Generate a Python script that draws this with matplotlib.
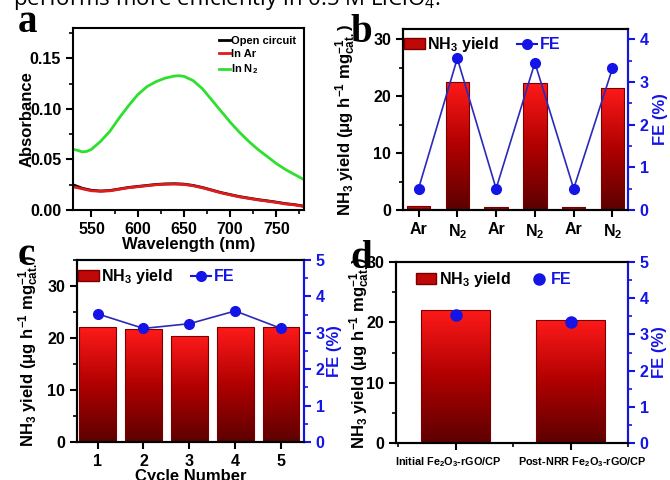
import numpy as np
import matplotlib
matplotlib.use("Agg")
import matplotlib.pyplot as plt
import matplotlib.transforms as mtransforms
from matplotlib.colors import LinearSegmentedColormap
from matplotlib.patches import Patch
from matplotlib.lines import Line2D
from matplotlib.ticker import MultipleLocator, FormatStrFormatter

plt.rcParams['font.family'] = ['Liberation Sans', 'DejaVu Sans']
plt.rcParams['font.weight'] = 'bold'
plt.rcParams['axes.labelweight'] = 'bold'
plt.rcParams['mathtext.default'] = 'regular'
plt.rcParams['axes.linewidth'] = 1.5

# ---- panel a: UV-vis spectra ----
wl = [530, 535, 540, 545, 550, 560, 570, 580, 590, 600, 610, 620, 630, 640, 645, 650,
      660, 670, 680, 690, 700, 710, 720, 730, 740, 750, 760, 770, 780]
abs_n2 = [0.060, 0.059, 0.0575, 0.058, 0.060, 0.068, 0.078, 0.091, 0.103, 0.114, 0.122,
          0.127, 0.1305, 0.1325, 0.1328, 0.1322, 0.128, 0.120, 0.109, 0.098, 0.087, 0.077,
          0.068, 0.060, 0.053, 0.046, 0.040, 0.035, 0.030]
wl_low = [530, 540, 550, 560, 570, 580, 590, 600, 610, 620, 630, 640, 650, 660, 670, 680,
          690, 700, 710, 720, 730, 740, 750, 760, 770, 780]
abs_open = [0.0250, 0.0215, 0.0195, 0.0188, 0.0193, 0.0208, 0.0223, 0.0233, 0.0243, 0.0253,
            0.0258, 0.0260, 0.0256, 0.0243, 0.0223, 0.0198, 0.0173, 0.0153, 0.0133, 0.0118,
            0.0103, 0.0091, 0.0078, 0.0063, 0.0053, 0.0038]
abs_ar = [0.0230, 0.0210, 0.0190, 0.0185, 0.0190, 0.0205, 0.0220, 0.0230, 0.0240, 0.0250,
          0.0255, 0.0257, 0.0253, 0.0240, 0.0220, 0.0195, 0.0170, 0.0150, 0.0130, 0.0115,
          0.0100, 0.0088, 0.0075, 0.0060, 0.0050, 0.0035]

# ---- panel b: Ar / N2 alternation ----
b_labels = ['Ar', 'N$_2$', 'Ar', 'N$_2$', 'Ar', 'N$_2$']
b_yield = [0.7, 22.5, 0.6, 22.3, 0.6, 21.5]
b_fe = [0.5, 3.55, 0.5, 3.45, 0.5, 3.32]

# ---- panel c: cycling ----
c_cycles = [1, 2, 3, 4, 5]
c_yield = [22.1, 21.7, 20.4, 22.1, 22.2]
c_fe = [3.52, 3.12, 3.25, 3.60, 3.12]

# ---- panel d: before / after ----
d_labels = ['Initial Fe$_2$O$_3$-rGO/CP', 'Post-NRR Fe$_2$O$_3$-rGO/CP']
d_yield = [22.1, 20.4]
d_fe = [3.53, 3.35]

ylab = 'NH$_3$ yield (μg h$^{-1}$ mg$^{-1}_{cat.}$)'
cmap = LinearSegmentedColormap.from_list('redgrad', ['#5c0000', '#b00000', '#ff1a1a'])
fe_blue = '#1414e6'


def grad_bars(ax, x, h, w):
    bars = ax.bar(x, h, w, color='none', edgecolor='#7a0000', lw=0.8, zorder=2)
    grad = np.linspace(0, 1, 256).reshape(-1, 1)
    for b in bars:
        x0, y0 = b.get_xy()
        im = ax.imshow(grad, cmap=cmap, origin='lower', aspect='auto',
                       extent=[x0, x0 + b.get_width(), y0, y0 + b.get_height()], zorder=1.5)
        im.set_clip_path(b)
    return bars


def style_left(ax):
    ax.tick_params(axis='both', which='major', direction='out', length=5, width=1.5, labelsize=11.5)
    ax.tick_params(axis='both', which='minor', direction='out', length=3, width=1.2)


def style_right(ax2, top):
    ax2.spines['right'].set_color(fe_blue)
    ax2.tick_params(axis='y', which='major', colors=fe_blue, direction='out', length=5, width=1.5,
                    labelsize=11.5)
    ax2.tick_params(axis='y', which='minor', colors=fe_blue, direction='out', length=3, width=1.2)
    ax2.yaxis.set_major_locator(MultipleLocator(1))
    ax2.yaxis.set_minor_locator(MultipleLocator(0.5))
    ax2.set_ylim(0, top)
    ax2.set_ylabel('FE (%)', color=fe_blue, fontsize=12)


fig = plt.figure(figsize=(6.7, 4.8), dpi=100)

fig.text(13 / 670, 1 - 4.5 / 480, 'performs more efficiently in 0.5 M LiClO$_4$.',
         family='Open Sans', weight='normal', fontsize=16, va='baseline', ha='left')

# panel a
axa = fig.add_axes([73 / 670, 1 - 210 / 480, 231 / 670, 182 / 480])
axa.plot(wl_low, abs_open, color='black', lw=2, label='Open circuit')
axa.plot(wl_low, abs_ar, color='#e01b1b', lw=2, label='In Ar')
axa.plot(wl, abs_n2, color='#2ee02e', lw=2, label='In N$_2$')
axa.set_xlim(530, 780)
axa.set_ylim(0, 0.18)
axa.xaxis.set_major_locator(MultipleLocator(50))
axa.xaxis.set_minor_locator(MultipleLocator(25))
axa.yaxis.set_major_locator(MultipleLocator(0.05))
axa.yaxis.set_minor_locator(MultipleLocator(0.025))
axa.yaxis.set_major_formatter(FormatStrFormatter('%.2f'))
style_left(axa)
axa.set_xlabel('Wavelength (nm)', fontsize=12, labelpad=0)
axa.set_ylabel('Absorbance', fontsize=12)
axa.legend(loc='upper right', frameon=False, fontsize=8, handlelength=1.0,
           handletextpad=0.1, labelspacing=0.3, borderaxespad=0.3)

# panel b
axb = fig.add_axes([403 / 670, 1 - 210 / 480, 225 / 670, 181 / 480])
xb = np.arange(len(b_labels))
grad_bars(axb, xb, b_yield, 0.6)
axb.set_xlim(-0.4, 5.4)
axb.set_ylim(0, 31.8)
axb.set_xticks(xb)
axb.set_xticklabels(b_labels)
axb.yaxis.set_major_locator(MultipleLocator(10))
axb.yaxis.set_minor_locator(MultipleLocator(5))
style_left(axb)
axb.set_ylabel(ylab, fontsize=12)
axb2 = axb.twinx()
axb2.plot(xb, b_fe, color='#2a2ab8', lw=1.2, marker='o', ms=7, mfc=fe_blue, mec=fe_blue)
style_right(axb2, 4.24)

# panel c
axc = fig.add_axes([77 / 670, 1 - 442 / 480, 227 / 670, 182 / 480])
grad_bars(axc, c_cycles, c_yield, 0.8)
axc.set_xlim(0.55, 5.5)
axc.set_ylim(0, 35)
axc.set_xticks(c_cycles)
axc.yaxis.set_major_locator(MultipleLocator(10))
axc.yaxis.set_minor_locator(MultipleLocator(5))
style_left(axc)
axc.set_xlabel('Cycle Number', fontsize=12, labelpad=0)
axc.set_ylabel(ylab, fontsize=12)
axc2 = axc.twinx()
axc2.plot(c_cycles, c_fe, color='#2a2ab8', lw=1.2, marker='o', ms=7, mfc=fe_blue, mec=fe_blue)
style_right(axc2, 5)

# panel d
axd = fig.add_axes([396 / 670, 1 - 443 / 480, 232 / 670, 181 / 480])
xd = np.arange(len(d_labels))
grad_bars(axd, xd, d_yield, 0.6)
axd.set_xlim(-0.52, 1.5)
axd.set_ylim(0, 30)
axd.set_xticks(xd)
axd.set_xticklabels(d_labels)
axd.xaxis.set_minor_locator(MultipleLocator(0.5))
axd.yaxis.set_major_locator(MultipleLocator(10))
axd.yaxis.set_minor_locator(MultipleLocator(5))
style_left(axd)
axd.tick_params(axis='x', labelsize=7.8)
# labels sit a little apart from their ticks in the original
for lbl, dx in zip(axd.get_xticklabels(), [-8, 12]):
    lbl.set_transform(lbl.get_transform() + mtransforms.ScaledTranslation(dx / 100, 0, fig.dpi_scale_trans))
axd.set_ylabel(ylab, fontsize=12)
axd2 = axd.twinx()
axd2.plot(xd, d_fe, ls='none', marker='o', ms=8, mfc=fe_blue, mec=fe_blue)
style_right(axd2, 5)

# legends
bar_h = Patch(facecolor='#c00808', edgecolor='#7a0000')
fe_line = Line2D([], [], color=fe_blue, lw=1.5, marker='o', ms=7)
fe_dot = Line2D([], [], ls='none', color=fe_blue, marker='o', ms=8)
for ax2, h, anchor in [(axb2, fe_line, (0.005, 0.965)), (axc2, fe_line, (0.005, 0.96)),
                       (axd2, fe_dot, (0.085, 0.955))]:
    leg = ax2.legend([bar_h, h], ['NH$_3$ yield', 'FE'], loc='upper left', bbox_to_anchor=anchor,
                     ncol=2, frameon=False, fontsize=11.5, handlelength=1.3, handletextpad=0.15,
                     columnspacing=1.1, borderaxespad=0, borderpad=0)
    leg.get_texts()[1].set_color(fe_blue)

# label positions
axa.yaxis.set_label_coords(-0.165, 0.5)
axb.yaxis.set_label_coords(-0.2, 0.5)
axc.yaxis.set_label_coords(-0.16, 0.5)
axd.yaxis.set_label_coords(-0.105, 0.5)
axb2.yaxis.set_label_coords(1.11, 0.5)
axc2.yaxis.set_label_coords(1.1, 0.5)
axd2.yaxis.set_label_coords(1.105, 0.5)

# panel letters
for lab, px, py in [('a', 18, 32), ('b', 350, 42), ('c', 18, 265), ('d', 350, 268)]:
    fig.text(px / 670, 1 - py / 480, lab, family='Liberation Serif', weight='bold',
             fontsize=28, va='baseline', ha='left')

fig.savefig('out.png', dpi=100)
